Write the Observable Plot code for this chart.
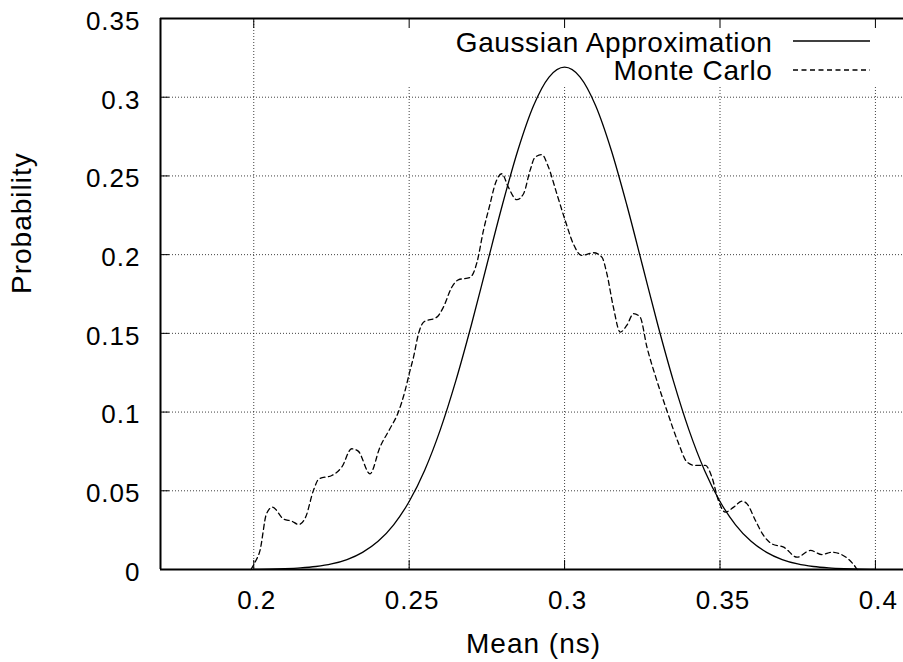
<!DOCTYPE html>
<html>
<head>
<meta charset="utf-8">
<script src="https://cdn.jsdelivr.net/npm/d3@7"></script>
<script src="https://cdn.jsdelivr.net/npm/@observablehq/plot@0.6"></script>
<style>
  html, body { margin: 0; padding: 0; background: #fff; }
  #chart svg { display: block; }
</style>
</head>
<body>
<div id="chart"></div>
<script>
// ---- data ----
const xTicks = [0.2, 0.25, 0.3, 0.35, 0.4];
const yTicks = [0, 0.05, 0.1, 0.15, 0.2, 0.25, 0.3, 0.35];
const xTitle = "Mean (ns)";
const yTitle = "Probability";
const seriesNames = ["Gaussian Approximation", "Monte Carlo"];

const gaussX = [0.200,0.205,0.210,0.215,0.220,0.225,0.230,0.235,0.240,0.245,0.250,0.255,0.260,0.265,0.270,0.275,0.280,0.285,0.290,0.295,0.300,0.305,0.310,0.315,0.320,0.325,0.330,0.335,0.340,0.345,0.350,0.355,0.360,0.365,0.370,0.375,0.380,0.385,0.390,0.395,0.400];
const gaussY = [0.0001,0.0002,0.0005,0.0010,0.0019,0.0035,0.0063,0.0109,0.0179,0.0284,0.0432,0.0631,0.0887,0.1198,0.1553,0.1936,0.2317,0.2665,0.2946,0.3128,0.3191,0.3128,0.2946,0.2665,0.2317,0.1936,0.1553,0.1198,0.0887,0.0631,0.0432,0.0284,0.0179,0.0109,0.0063,0.0035,0.0019,0.0010,0.0005,0.0002,0.0001];

const mcX = [0.1991,0.2004,0.2020,0.2041,0.2060,0.2095,0.2122,0.2145,0.2167,0.2192,0.2210,0.2251,0.2283,0.2315,0.2336,0.2374,0.2406,0.2438,0.2465,0.2487,0.2501,0.2514,0.2530,0.2546,0.2589,0.2610,0.2637,0.2658,0.2696,0.2718,0.2739,0.2760,0.2777,0.2798,0.2819,0.2846,0.2868,0.2889,0.2905,0.2927,0.2948,0.2975,0.3002,0.3028,0.3055,0.3093,0.3120,0.3136,0.3157,0.3179,0.3200,0.3222,0.3243,0.3265,0.3292,0.3329,0.3367,0.3394,0.3420,0.3453,0.3474,0.3495,0.3517,0.3544,0.3571,0.3587,0.3614,0.3640,0.3667,0.3705,0.3748,0.3791,0.3828,0.3860,0.3914,0.3936,0.3941];
const mcY = [0,0.0046,0.012,0.0354,0.0396,0.0322,0.0307,0.0286,0.0333,0.0502,0.0576,0.0597,0.0650,0.0767,0.0752,0.0608,0.0777,0.0894,0.0999,0.1137,0.1250,0.1349,0.1497,0.1571,0.1603,0.1666,0.1793,0.1840,0.1855,0.1950,0.2154,0.2320,0.2450,0.2514,0.2429,0.2349,0.2387,0.2535,0.2619,0.2635,0.2556,0.2387,0.2217,0.2069,0.1995,0.2012,0.1984,0.1879,0.1666,0.1508,0.1550,0.1625,0.1603,0.1412,0.1230,0.1010,0.0799,0.0682,0.0661,0.0661,0.0586,0.0438,0.0364,0.0396,0.0434,0.0417,0.0311,0.0216,0.0163,0.0142,0.0078,0.0121,0.0095,0.0110,0.0064,0.0015,0];

const gauss = gaussX.map((x, i) => ({x, y: gaussY[i]}));
const mc = mcX.map((x, i) => ({x, y: mcY[i]}));

const FONT = "'Liberation Sans', Arial, Helvetica, sans-serif";
const DASH = "5,3.5";

// legend (layout only)
function legendBackground() {
  const g = d3.create("svg:g");
  g.append("rect").attr("x", 400).attr("y", 19).attr("width", 510).attr("height", 66).attr("fill", "#fff");
  return g.node();
}
function legendEntries() {
  const g = d3.create("svg:g")
    .attr("font-family", FONT).attr("font-size", 28).style("letter-spacing", "0.6px");
  const rows = [{name: seriesNames[0], dash: null, base: 51.5, ly: 41},
                {name: seriesNames[1], dash: DASH, base: 80, ly: 70}];
  for (const r of rows) {
    g.append("text").attr("x", 772.5).attr("y", r.base).attr("text-anchor", "end").attr("fill", "#000").text(r.name);
    const l = g.append("line").attr("x1", 793).attr("x2", 870).attr("y1", r.ly).attr("y2", r.ly)
      .attr("stroke", "#000").attr("stroke-width", 1.3);
    if (r.dash) l.attr("stroke-dasharray", r.dash);
  }
  return g.node();
}

const gridStyle = {stroke: "#000", strokeOpacity: 0.75, strokeDasharray: "1,2", strokeWidth: 1};

const chart = Plot.plot({
  width: 903,
  height: 662,
  marginLeft: 160,
  marginRight: -3,
  marginTop: 18,
  marginBottom: 93,
  x: {domain: [0.17, 0.41]},
  y: {domain: [0, 0.35]},
  style: {fontFamily: FONT, fontSize: "26px", letterSpacing: "1px", color: "#000", background: "#fff"},
  marks: [
    Plot.gridX(xTicks, gridStyle),
    Plot.gridY(yTicks, gridStyle),
    legendBackground,
    Plot.line(gauss, {x: "x", y: "y", stroke: "#000", strokeWidth: 1.3, curve: "monotone-x"}),
    Plot.line(mc, {x: "x", y: "y", stroke: "#000", strokeWidth: 1.3, strokeDasharray: DASH, curve: "monotone-x"}),
    // frame (left, top, bottom)
    Plot.ruleY([0, 0.35], {stroke: "#000", strokeWidth: 2}),
    Plot.ruleX([0.17], {stroke: "#000", strokeWidth: 2}),
    // inward ticks
    Plot.axisX(xTicks, {anchor: "bottom", tickSize: 9, dy: -9, tickFormat: () => "", label: null}),
    Plot.axisX(xTicks, {anchor: "top", tickSize: 9, dy: 9, tickFormat: () => "", label: null}),
    Plot.axisY(yTicks, {anchor: "left", tickSize: 9, dx: 9, tickFormat: () => "", label: null}),
    // tick labels
    Plot.axisX(xTicks, {anchor: "bottom", tickSize: 0, tickPadding: 21, dx: 3, tickFormat: String, label: null}),
    Plot.axisY(yTicks, {anchor: "left", tickSize: 0, tickPadding: 20, dy: 3, tickFormat: String, label: null}),
    // axis titles
    Plot.text([xTitle], {frameAnchor: "bottom", lineAnchor: "middle", dy: 75, fontSize: 28, text: d => d, letterSpacing: "0.4px"}),
    Plot.text([yTitle], {frameAnchor: "left", lineAnchor: "middle", rotate: -90, dx: -138, fontSize: 28, text: d => d}),
    legendEntries
  ]
});

document.getElementById("chart").appendChild(chart);
</script>
</body>
</html>
